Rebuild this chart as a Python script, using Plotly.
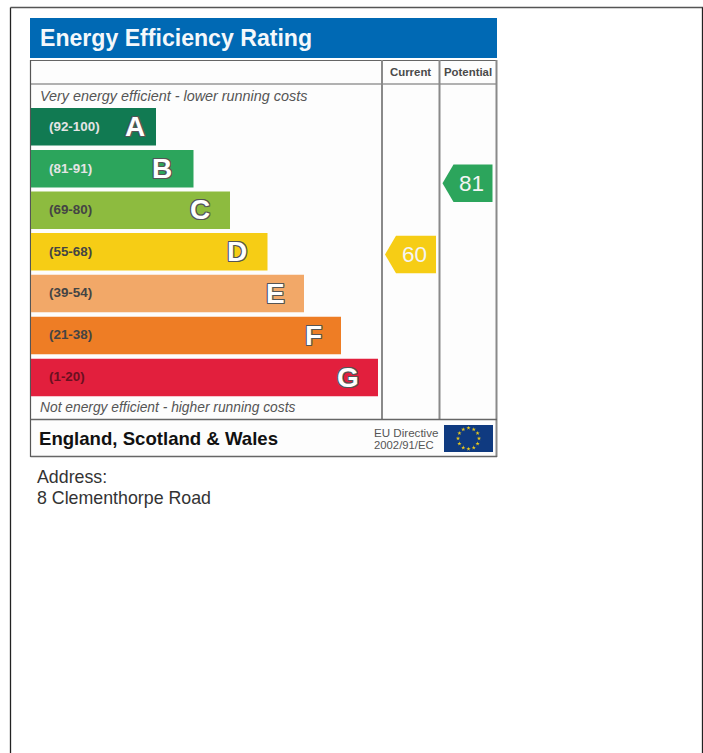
import math
import plotly.graph_objects as go

# ---- data ----
bands = ["A", "B", "C", "D", "E", "F", "G"]
ranges = ["(92-100)", "(81-91)", "(69-80)", "(55-68)", "(39-54)", "(21-38)", "(1-20)"]
bar_lengths = [125, 162.5, 199, 236.5, 273, 310, 347]
bar_centers = [126.8, 168.8, 210.3, 251.8, 293.5, 335.5, 377.5]
letter_x = [135, 162, 200, 237, 275, 313, 348]
band_colors = ["#117a52", "#2ca55c", "#8dbb3f", "#f6cd15", "#f2a868", "#ee7d25", "#e21f3d"]
range_colors = ["#e4e4e4", "#e4e4e4", "#444444", "#444444", "#444444", "#444444", "#6a1020"]

pointer_columns = ["Current", "Potential"]
pointer_values = [60, 81]
pointer_y = [254.5, 183.2]
pointer_left = [385, 442.5]
pointer_right = [436, 492.5]
pointer_colors = ["#f6cd15", "#2ca55c"]

FONT = "Liberation Sans"
GRAY = "#8a8a8a"
DARK = "#4a4a4a"

fig = go.Figure()

fig.add_trace(go.Bar(
    y=bar_centers, x=bar_lengths, base=31, orientation="h", width=37.5,
    marker=dict(color=band_colors, line=dict(width=0)),
    hoverinfo="skip", showlegend=False,
))

# value pointers (arrow-shaped tags)
for v, y, l, r, c in zip(pointer_values, pointer_y, pointer_left, pointer_right, pointer_colors):
    h = 18.8
    fig.add_trace(go.Scatter(
        x=[l, l + 11, r, r, l + 11, l], y=[y, y - h, y - h, y + h, y + h, y],
        mode="lines", fill="toself", fillcolor=c, line=dict(width=0),
        hoverinfo="skip", showlegend=False,
    ))
    fig.add_trace(go.Scatter(
        x=[(l + 11 + r) / 2 - 1.5], y=[y + 2], mode="text", text=[str(v)],
        textfont=dict(family=FONT, size=22.5, color="#f4f4f4"),
        textposition="middle center", hoverinfo="skip", showlegend=False,
    ))

# EU flag stars
star_hours = list(range(12))
fig.add_trace(go.Scatter(
    x=[468.5 + 10.5 * math.sin(math.radians(30 * h)) for h in star_hours],
    y=[438.5 - 10.5 * math.cos(math.radians(30 * h)) for h in star_hours],
    mode="markers", marker=dict(symbol="star", size=3.2, color="#e8c81e", line=dict(width=0)),
    hoverinfo="skip", showlegend=False,
))


def rect(x0, y0, x1, y1, fill=None, color=None, width=0):
    return dict(type="rect", xref="x", yref="y", x0=x0, y0=y0, x1=x1, y1=y1, layer="below",
                fillcolor=fill or "rgba(0,0,0,0)", line=dict(color=color or "rgba(0,0,0,0)", width=width))


def line(x0, y0, x1, y1, color=GRAY, width=1):
    return dict(type="line", xref="x", yref="y", x0=x0, y0=y0, x1=x1, y1=y1, layer="below",
                line=dict(color=color, width=width))


shapes = [
    line(10.5, 7.5, 10.5, 753, "#222222", 1.3),
    line(10.5, 7.5, 703, 7.5, "#555555", 1.3),
    line(702.5, 7.5, 702.5, 753, "#222222", 1.3),
    rect(30, 18, 497, 58, fill="#0069b4"),
    rect(31, 61, 496.5, 456, fill="#fdfdfd"),
    line(30.5, 60.5, 497, 60.5, "#666666", 1.2),
    line(30.5, 84, 497, 84, "#666666", 1.2),
    line(30.5, 60, 30.5, 457, "#555555", 1.2),
    line(382, 60, 382, 419, GRAY, 2),
    line(439.5, 60, 439.5, 419, GRAY, 2),
    line(496.5, 60, 496.5, 457, GRAY, 2),
    line(30.5, 419.5, 497, 419.5, "#666666", 1.4),
    line(30.5, 456.5, 497, 456.5, "#666666", 1.4),
    rect(444, 425, 493, 452, fill="#0f3a80"),
]


def txt(x, y, s, size, color, anchor="left", bold=False, italic=False, shadow=None):
    font = dict(family=FONT, size=size, color=color,
                weight="bold" if bold else "normal", style="italic" if italic else "normal")
    if shadow:
        font["shadow"] = shadow
    return dict(x=x, y=y, xref="x", yref="y", text=s, showarrow=False, xanchor=anchor, yanchor="middle",
                font=font, borderpad=0)


outline = ("1px 0 0 #555, -1px 0 0 #555, 0 1px 0 #555, 0 -1px 0 #555, "
           "1px 1px 0 #555, -1px -1px 0 #555, 1px -1px 0 #555, -1px 1px 0 #555")

ann = [
    txt(39, 38, "Energy Efficiency Rating", 23.1, "#f4f8fb", bold=True),
    txt(410, 72.2, "Current", 11.4, DARK, "center", bold=True),
    txt(468, 72.2, "Potential", 11.4, DARK, "center", bold=True),
    txt(39, 96, "Very energy efficient - lower running costs", 14.4, "#555555", italic=True),
    txt(39, 407.7, "Not energy efficient - higher running costs", 13.8, "#555555", italic=True),
    txt(37.5, 438, "England, Scotland &amp; Wales", 18.6, "#111111", bold=True),
    txt(373, 432.2, "EU Directive", 11.6, "#555555"),
    txt(373, 444.8, "2002/91/EC", 11.3, "#555555"),
    txt(36, 476.5, "Address:", 17.8, "#333333"),
    txt(36, 498, "8 Clementhorpe Road", 17.8, "#333333"),
]
for r, y, c in zip(ranges, bar_centers, range_colors):
    ann.append(txt(47.5, y - 0.8, r, 13.4, c, bold=True))
for b, x, y in zip(bands, letter_x, bar_centers):
    ann.append(txt(x, y - 0.5, b, 28, "#ffffff", "center", bold=True, shadow=outline))

fig.update_layout(
    width=703, height=753, margin=dict(l=0, r=0, t=0, b=0),
    paper_bgcolor="#ffffff", plot_bgcolor="#ffffff", showlegend=False,
    xaxis=dict(range=[0, 703], visible=False, fixedrange=True),
    yaxis=dict(range=[753, 0], visible=False, fixedrange=True),
    shapes=shapes, annotations=ann,
)

fig.write_html("out.html", config={"displayModeBar": False},
               post_script="document.body.style.margin='0';document.body.style.overflow='hidden';")
